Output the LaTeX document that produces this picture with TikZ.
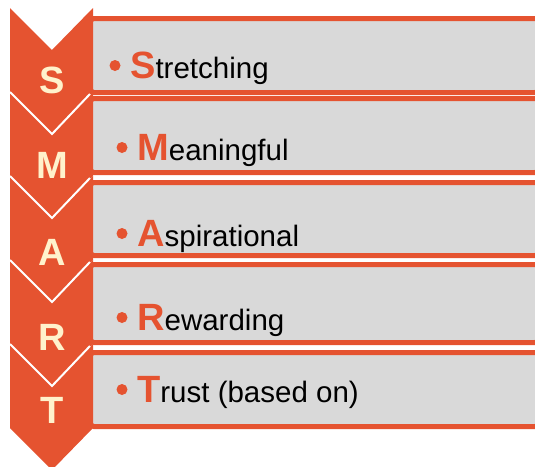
\documentclass[tikz,border=0pt]{standalone}
\usepackage{fontspec}
\setmainfont{Liberation Sans}
\usetikzlibrary{calc,math}

\definecolor{smartorange}{RGB}{229,83,48}
\definecolor{boxgrey}{RGB}{217,217,217}
\definecolor{lettercream}{RGB}{255,242,204}

\begin{document}
\begin{tikzpicture}[x=1pt,y=-1pt,
  chevron/.style={fill=smartorange},
  splitline/.style={draw=white,line width=2pt},
  itembox/.style={draw=smartorange,line width=5pt,fill=boxgrey,rounded corners=5pt},
  chevletter/.style={text=lettercream,inner sep=0pt,anchor=base,
    font=\fontsize{38}{42}\selectfont\bfseries},
  bulletdot/.style={circle,fill=smartorange,inner sep=0pt,minimum size=11pt},
  itemtext/.style={inner sep=0pt,anchor=base west,font=\fontsize{29.5}{34}\selectfont}]
  \useasboundingbox (0,0) rectangle (535,466);
  \clip (0,0) rectangle (535,466);

  % grey boxes (left end hidden behind the chevrons)
  \foreach \t/\b in {16/95,96/175,180/258,262/345,350/429} {
    \draw[itembox] (89,\t+2.5) rectangle (540,\b-2.5);
  }

  % chevrons and the white lines between them
  \foreach \i in {0,...,4} {
    \tikzmath{
      real \ctop;
      \ctop = 8 + 84*\i;
    }
    \fill[chevron] (10,\ctop) -- (52,\ctop+42) -- (93,\ctop) -- (93,\ctop+84)
      -- (52,\ctop+126) -- (10,\ctop+84) -- cycle;
  }
  \foreach \i in {1,...,4} {
    \draw[splitline] (10,8+84*\i) -- (52,50+84*\i) -- (90,10+84*\i);
  }

  \foreach \k/\y [count=\n] in {S/93,M/178,A/265,R/350,T/423} {
    \node[chevletter] (let-\n) at (52,\y) {\k};
  }

  % bullet items
  \foreach \k/\rest/\bx/\by [count=\n] in {S/tretching/115/78,M/eaningful/122/160,
      A/spirational/122/246,R/ewarding/122/330,T/{rust (based on)}/122/402} {
    \node[bulletdot] (dot-\n) at (\bx,\by-12.5) {};
    \node[itemtext] (item-\n) at (\bx+15,\by)
      {\textcolor{smartorange}{\fontsize{38}{42}\selectfont\bfseries\k}\rest};
  }
\end{tikzpicture}
\end{document}
